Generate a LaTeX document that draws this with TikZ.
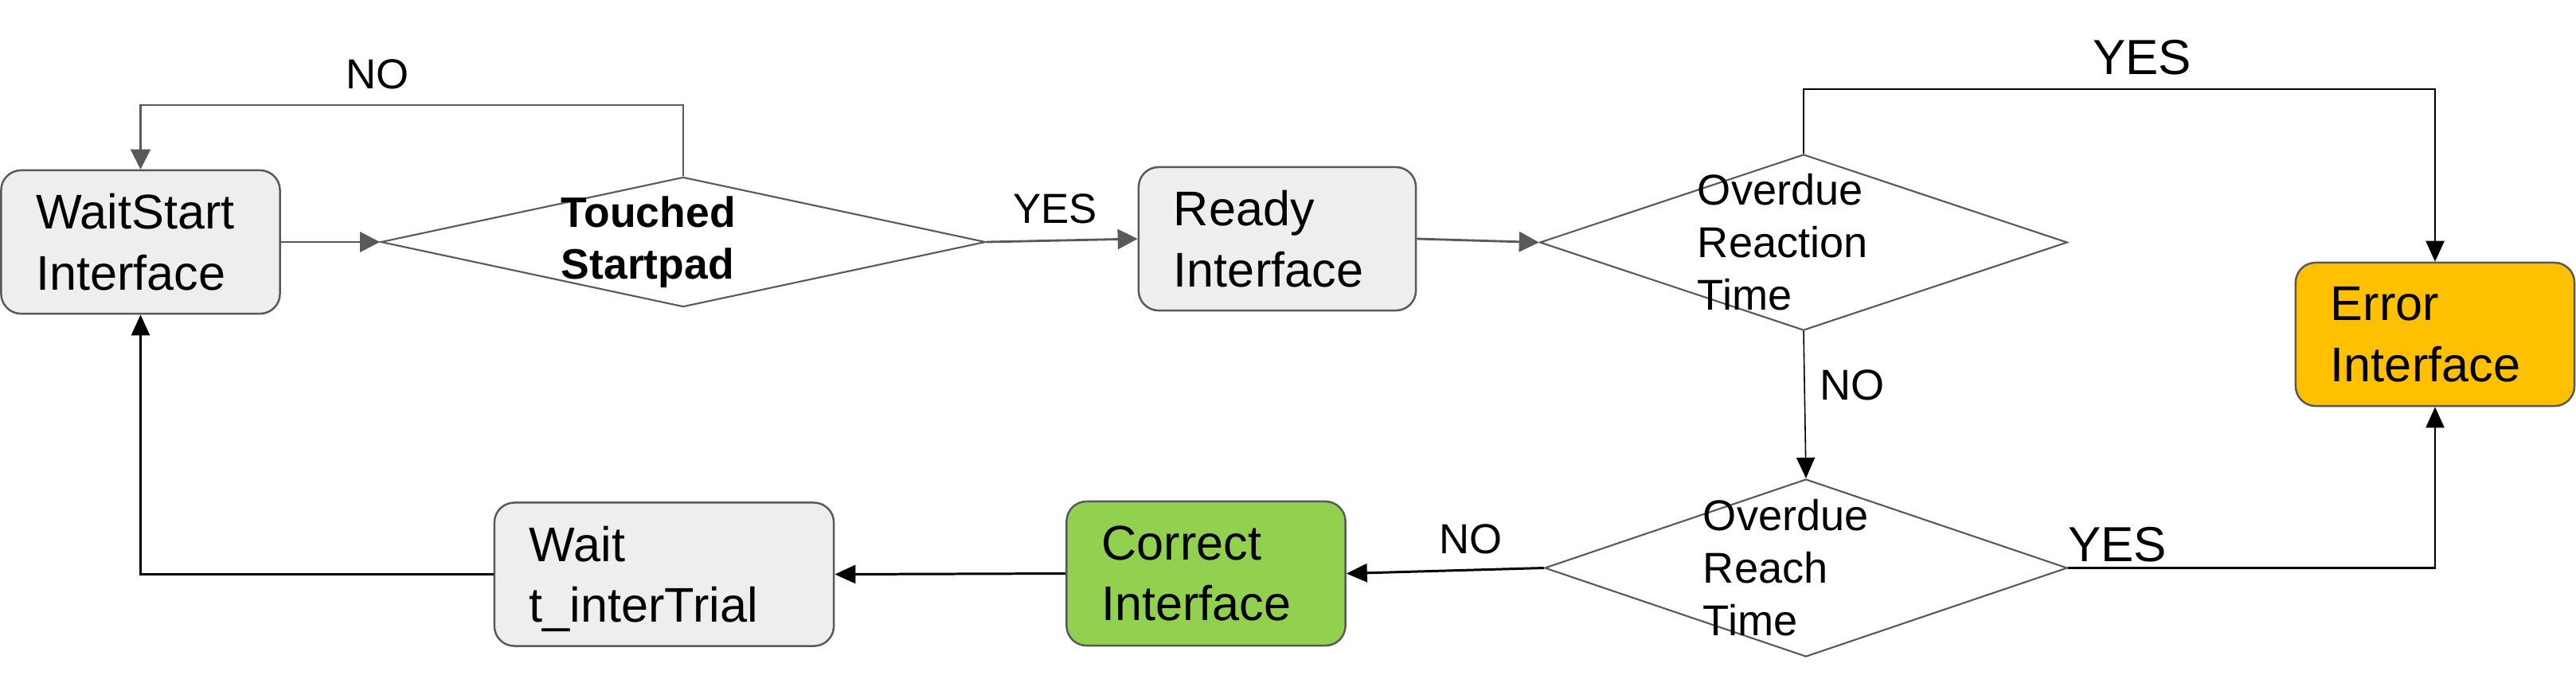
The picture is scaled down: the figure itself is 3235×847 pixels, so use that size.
\documentclass[tikz,border=0pt]{standalone}
\usepackage{fontspec}
\setmainfont{Liberation Sans}
\usetikzlibrary{shapes.geometric,arrows.meta}
\definecolor{boxgray}{HTML}{EEEEEE}
\definecolor{edgegray}{HTML}{595959}
\definecolor{errfill}{HTML}{FFC000}
\definecolor{okfill}{HTML}{92D050}
\begin{document}
\begin{tikzpicture}[x=0.01cm,y=-0.01cm,
  statebox/.style={draw=edgegray, line width=0.7pt, rounded corners=0.25cm, fill=boxgray,
    minimum height=1.8cm, minimum width=3.5cm, text width=2.62cm, inner xsep=0.44cm,
    inner ysep=0pt, align=left, font=\fontsize{17.4pt}{21.8pt}\selectfont},
  decision/.style={draw=edgegray, line width=0.6pt, diamond, inner sep=0pt},
  dtext/.style={inner sep=0pt, align=left, font=\fontsize{15.4pt}{18.8pt}\selectfont},
  lbl/.style={inner sep=0pt, anchor=base},
  garrow/.style={draw=edgegray, line width=0.8pt, -{Triangle[length=0.25cm,width=0.25cm]}},
  barrow/.style={draw=black, line width=0.7pt, -{Triangle[length=0.26cm,width=0.23cm]}},
]
\useasboundingbox (0,0) rectangle (3235,847);

% nodes
\node[statebox] (ws) at (176.5,304) {WaitStart\\Interface};
\node[decision, minimum width=7.59cm, minimum height=1.63cm] (d1) at (858,304) {};
\node[dtext, text width=3.06cm, font=\bfseries\fontsize{15.2pt}{18.5pt}\selectfont] (t1) at (858,304) {Touched\\Startpad};
\node[statebox, minimum width=3.48cm, text width=2.60cm] (rd) at (1604,300) {Ready\\Interface};
\node[decision, minimum width=6.62cm, minimum height=2.21cm] (d2) at (2265,304.5) {};
\node[dtext, text width=2.66cm] (t2) at (2265,304) {Overdue\\Reaction\\Time};
\node[statebox, fill=errfill] (er) at (3058,420) {Error\\Interface};
\node[decision, minimum width=6.56cm, minimum height=2.23cm] (d3) at (2268,713.5) {};
\node[dtext, text width=2.58cm] (t3) at (2268,713) {Overdue\\Reach\\Time};
\node[statebox, fill=okfill, minimum height=1.81cm] (co) at (1514.5,720.5) {Correct\\Interface};
\node[statebox, minimum width=4.26cm, text width=3.38cm] (wt) at (834,721.5) {Wait\\t\smash{\_}interTrial};

% helper coordinates
\coordinate (noy) at (0,132);
\coordinate (yesy) at (0,112);

% connectors
\draw[garrow] (ws.east) -- (d1.west);
\draw[garrow, line width=0.6pt] (d1.north) |- (ws.north |- noy) -- (ws.north);
\draw[garrow] (d1.east) -- (rd.west);
\draw[garrow] (rd.east) -- (d2.west);
\draw[barrow] (d2.north) |- (er.north |- yesy) -- (er.north);
\draw[barrow, line width=0.45pt] (d2.south) -- (d3.north);
\draw[barrow] (d3.east) -| (er.south);
\draw[barrow, line width=0.85pt] (d3.west) -- (co.east);
\draw[barrow, line width=0.85pt] (co.west) -- (wt.east);
\draw[barrow] (wt.west) -| (ws.south);

% labels
\node[lbl, font=\fontsize{15pt}{18pt}\selectfont] (l1) at (474,111) {NO};
\node[lbl, font=\fontsize{15pt}{18pt}\selectfont] (l2) at (1325,280) {YES};
\node[lbl, font=\fontsize{17.6pt}{21pt}\selectfont] (l3) at (2690,93) {YES};
\node[lbl, font=\fontsize{15.4pt}{18pt}\selectfont] (l4) at (2326,502) {NO};
\node[lbl, font=\fontsize{17.6pt}{21pt}\selectfont] (l5) at (2659,705) {YES};
\node[lbl, font=\fontsize{15pt}{18pt}\selectfont] (l6) at (1847,695) {NO};
\end{tikzpicture}
\end{document}
